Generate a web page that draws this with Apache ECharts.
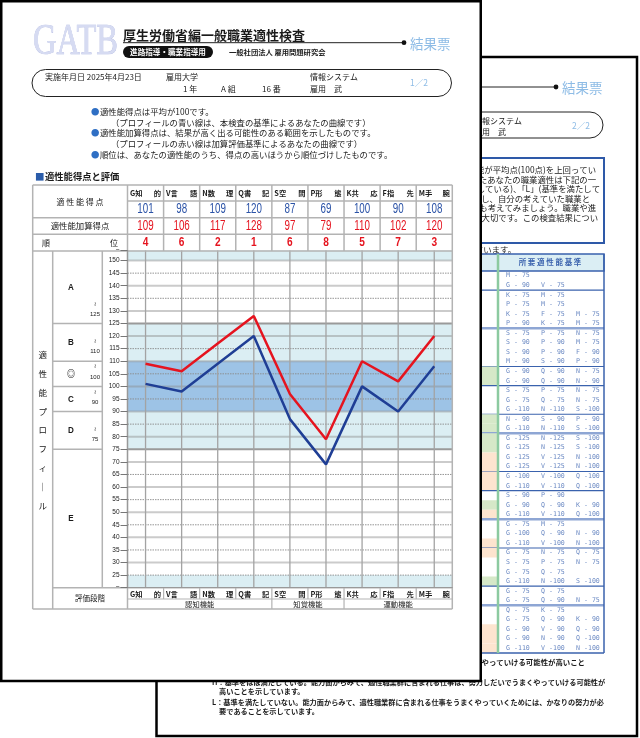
<!DOCTYPE html>
<html>
<head>
<meta charset="utf-8">
<script src="https://cdn.jsdelivr.net/npm/echarts@6/dist/echarts.min.js"></script>
<style>
  html, body { margin: 0; padding: 0; background: #fff; }
  #main { width: 640px; height: 738px; }
</style>
</head>
<body>
<div id="main"></div>
<script>
// --- data ---
const categories = ['G知的', 'V言語', 'N数理', 'Q書記', 'S空間', 'P形態', 'K共応', 'F指先', 'M手腕'];
const aptitudeScores = [101, 98, 109, 120, 87, 69, 100, 90, 108];
const addedScores = [109, 106, 117, 128, 97, 79, 110, 102, 120];
const ranks = [4, 6, 2, 1, 6, 8, 5, 7, 3];
const yTicks = [25, 30, 35, 40, 45, 50, 55, 60, 65, 70, 75, 80, 85, 90, 95, 100, 105, 110, 115, 120, 125, 130, 135, 140, 145, 150];
const gradeNames = ['A', 'B', '◎', 'C', 'D', 'E'];
const gradeBounds = [154, 125, 110, 100, 90, 75, 20];
const gradeLimits = ['125', '110', '100', '90', '75', ''];
const lightBands = [[150, 154], [110, 125], [75, 90], [20, 25]];
const midBand = [90, 110];
const funcGroups = [['認知機能', 0, 3], ['知覚機能', 4, 5], ['運動機能', 6, 8]];
const profileTitle = ['適', '性', '能', 'プ', 'ロ', 'フ', 'ィ', '｜', 'ル'];

// page 2 table (所要適性能基準)
const stdGroups = [
  [['M - 75'], ['G - 90', 'V - 75']],
  [['K - 75', 'M - 75'], ['P - 75', 'M - 75'], ['K - 75', 'F - 75', 'M - 75'], ['P - 90', 'K - 75', 'M - 75']],
  [['S - 75', 'P - 75', 'N - 75'], ['S - 90', 'P - 90', 'M - 75'], ['S - 90', 'P - 90', 'F - 90'], ['M - 90', 'S - 90', 'P - 90']],
  [['G - 90', 'Q - 90', 'N - 75'], ['G - 90', 'Q - 90', 'N - 90']],
  [['S - 75', 'P - 75', 'N - 75'], ['G - 75', 'Q - 75', 'N - 75'], ['G -110', 'N -110', 'S -100']],
  [['N - 90', 'S - 90', 'P - 90'], ['G -110', 'N -110', 'S -100']],
  [['G -125', 'N -125', 'S -100'], ['G -125', 'N -125', 'S -100'], ['G -125', 'V -125', 'N -100'], ['G -125', 'V -125', 'N -100']],
  [['G -100', 'V -100', 'Q -100'], ['G -110', 'V -110', 'Q -100']],
  [['S - 90', 'P - 90'], ['G - 90', 'Q - 90', 'K - 90'], ['G -110', 'V -110', 'Q -100']],
  [['G - 75', 'M - 75'], ['G -100', 'Q - 90', 'N - 90'], ['G -110', 'V -100', 'N -100']],
  [['G - 75', 'N - 75', 'Q - 75'], ['S - 75', 'P - 75', 'N - 75'], ['G - 75', 'Q - 75'], ['G -110', 'N -100', 'S -100']],
  [['G - 75', 'Q - 75'], ['G - 75', 'Q - 90', 'N - 75']],
  [['Q - 75', 'K - 75'], ['G - 75', 'Q - 90', 'K - 90'], ['G - 90', 'V - 90', 'Q - 90'], ['G - 90', 'N - 90', 'Q -100'], ['G -110', 'V -100', 'N -100']]
];
const thickAfterGroup = [1, 5, 8, 11];
const rowMarks = { 11: 'g', 12: 'g', 16: 'g', 17: 'g', 18: 'g', 19: 'g', 20: 'o', 21: 'o', 22: 'o', 23: 'o',
  25: 'g', 26: 'o', 29: 'o', 30: 'o', 33: 'g', 38: 'o', 39: 'o', 40: 'o' };

const JP = "'Noto Sans CJK JP', sans-serif";
const chart = echarts.init(document.getElementById('main'));

chart.setOption({
  animation: false,
  backgroundColor: '#ffffff',
  grid: { left: 127.5, right: 187.7, top: 250.5, bottom: 150.3 },
  xAxis: {
    type: 'category',
    data: categories,
    boundaryGap: true,
    axisLine: { show: true, lineStyle: { color: '#999', width: 1 } },
    axisTick: { show: false },
    axisLabel: { show: false },
    splitLine: { show: false }
  },
  yAxis: {
    type: 'value',
    min: 20,
    max: 154,
    interval: 5,
    axisLine: { show: true, lineStyle: { color: '#999', width: 1.2 } },
    axisTick: { show: true, length: 7, lineStyle: { color: '#777', width: 1 } },
    axisLabel: {
      fontSize: 6.5,
      fontFamily: 'Liberation Sans',
      color: '#222',
      margin: 8,
      formatter: v => (v === 20 || v === 154) ? '~' : (v >= 25 && v <= 150 ? String(v) : '')
    },
    splitLine: { show: false }
  },
  series: [
    {
      name: '適性能加算得点',
      type: 'line',
      data: addedScores,
      symbol: 'none',
      lineStyle: { color: '#e5141f', width: 2.5 },
      itemStyle: { color: '#e5141f' },
      z: 3
    },
    {
      name: '適性能得点',
      type: 'line',
      data: aptitudeScores,
      symbol: 'none',
      lineStyle: { color: '#1f3e95', width: 2.5 },
      itemStyle: { color: '#1f3e95' },
      z: 4
    }
  ]
});

const xp = i => chart.convertToPixel({ xAxisIndex: 0 }, i);
const yp = v => chart.convertToPixel({ yAxisIndex: 0 }, v);
const colW = xp(1) - xp(0);
const gL = xp(0) - colW / 2;
const gR = xp(categories.length - 1) + colW / 2;

const g = [];
function text(x, y, s, size, o) {
  o = o || {};
  g.push({
    type: 'text', x: x, y: y, z: o.z !== undefined ? o.z : -5, scaleX: o.sx || 1, silent: true,
    style: {
      text: s, fontSize: size, fontFamily: o.font || JP, fontWeight: o.bold ? 'bold' : 'normal',
      fill: o.color || '#1a1a1a', align: o.align || 'left', verticalAlign: 'middle'
    }
  });
}
function line(x1, y1, x2, y2, stroke, w, o) {
  o = o || {};
  g.push({
    type: 'line', z: o.z !== undefined ? o.z : -6, silent: true,
    shape: { x1: x1, y1: y1, x2: x2, y2: y2 },
    style: { stroke: stroke, lineWidth: w, lineDash: o.dash || null }
  });
}
function rect(x, y, w, h, style, z, r) {
  g.push({ type: 'rect', z: z, silent: true, shape: { x: x, y: y, width: w, height: h, r: r || 0 }, style: style });
}

// ---------- back page (2/2) ----------
const BZ = -19;
rect(156.5, 57, 480.5, 679, { fill: '#fff', stroke: '#000', lineWidth: 2.5 }, -20);
line(300, 87, 556, 87, '#222', 1, { z: BZ });
g.push({ type: 'circle', z: BZ, silent: true, shape: { cx: 556, cy: 87, r: 2.4 }, style: { fill: '#111' } });
text(562, 88, '結果票', 13.5, { color: '#8ebce6', z: BZ });
rect(180, 112, 423, 26, { fill: 'none', stroke: '#222', lineWidth: 1 }, BZ, 13);
text(474, 120.5, '情報システム', 8, { z: BZ });
text(474, 131.5, '雇用　武', 8, { z: BZ });
text(572, 126, '2／2', 8.5, { color: '#8ebce6', z: BZ });
rect(200, 158, 404, 85, { fill: 'none', stroke: '#2e59a8', lineWidth: 2 }, BZ);
const boxLines = [
  ['あなたの適性能のうち、その適性能が平均点(100点)を上回ってい', 596, 170],
  ['の適性能の組み合わせから求められたあなたの職業適性は下記の一', 596, 179.5],
  ['ていない)、「M」(基準をほぼ満たしている)、「L」(基準を満たして', 600, 189],
  ['の中から、特に「H」の職業群に注目し、自分の考えていた職業と', 590, 198.5],
  ['の考えていなかった職業についても考えてみましょう。職業や進', 596, 208],
  ['めるには、よく話し合うことが大切です。この検査結果につい', 598, 217.5]
];
boxLines.forEach(b => text(b[1], b[2], b[0], 8.4, { align: 'right', z: BZ }));
text(516, 249.5, '適性職業群が示されています。', 8.4, { align: 'right', z: BZ });
rect(300, 254, 304, 17, { fill: '#dbeef4', stroke: '#3a62ad', lineWidth: 1.5 }, BZ);
text(550, 262.5, '所 要 適 性 能 基 準', 7.5, { align: 'center', color: '#3a62ad', bold: true, z: BZ });
const rowH = 9.55;
const rowTop = 271;
let rowNo = 0;
stdGroups.forEach((grp, gi) => {
  grp.forEach(r => {
    rowNo += 1;
    const yc = rowTop + (rowNo - 0.5) * rowH;
    const mark = rowMarks[rowNo];
    if (mark) {
      rect(440, yc - rowH / 2, 57.5, rowH, { fill: mark === 'g' ? '#d6e8c8' : '#fde4cf' }, BZ);
    }
    r.forEach((s, k) => text(506 + k * 35, yc, s, 6.6, { font: 'DejaVu Sans Mono', color: '#6d8bc4', z: BZ }));
  });
  const yb = rowTop + rowNo * rowH;
  if (gi < stdGroups.length - 1) {
    if (thickAfterGroup.indexOf(gi) >= 0) line(300, yb, 604, yb, '#8ea6d4', 2.5, { z: BZ });
    else line(300, yb, 604, yb, '#3a62ad', 1.1, { z: BZ });
  }
});
const tableBottom = rowTop + rowNo * rowH;
line(300, tableBottom, 604, tableBottom, '#3a62ad', 1.5, { z: BZ });
line(604, 254, 604, tableBottom, '#3a62ad', 1.5, { z: BZ });
line(498, 254, 498, tableBottom, '#8ccaa0', 2.5, { z: BZ });
text(585, 662.5, 'うまくやっていける可能性が高いこと', 7.4, { align: 'right', bold: true, z: BZ });
text(212, 682.5, 'H：基準をほぼ満たしている。能力面からみて、適性職業群に含まれる仕事は、努力しだいでうまくやっていける可能性が', 7.2, { bold: true, z: BZ });
text(219, 691.5, '高いことを示しています。', 7.2, { bold: true, z: BZ });
text(212, 702.5, 'L：基準を満たしていない。能力面からみて、適性職業群に含まれる仕事をうまくやっていくためには、かなりの努力が必', 7.2, { bold: true, z: BZ });
text(219, 711.5, '要であることを示しています。', 7.2, { bold: true, z: BZ });

// ---------- front page (1/2) ----------
rect(1.25, 1.25, 479.5, 679.75, { fill: '#fff', stroke: '#000', lineWidth: 2.5 }, -10);
g.push({
  type: 'text', x: 33, y: 42, z: -5, scaleX: 0.74, silent: true,
  style: { text: 'GATB', fontSize: 44, fontFamily: 'Liberation Serif', fill: '#d6dbf2', stroke: '#aeb6e0',
    lineWidth: 0.6, align: 'left', verticalAlign: 'middle' }
});
text(123, 35, '厚生労働省編一般職業適性検査', 13, { bold: true });
line(123, 42.7, 404, 42.7, '#222', 1);
g.push({ type: 'circle', z: -5, silent: true, shape: { cx: 404, cy: 42.7, r: 2.4 }, style: { fill: '#111' } });
text(410, 43.5, '結果票', 13.5, { color: '#8ebce6' });
rect(123, 46, 90, 12, { fill: '#111' }, -6, 6);
text(168, 52, '進路指導・職業指導用', 7.6, { align: 'center', color: '#fff', bold: true });
text(229, 52.3, '一般社団法人 雇用問題研究会', 7.3, { bold: true });
rect(32, 69.5, 419.5, 27, { fill: 'none', stroke: '#222', lineWidth: 1 }, -6, 13.5);
text(45, 77, '実施年月日 2025年4月23日', 8);
text(166, 77, '雇用大学', 8);
text(310, 77, '情報システム', 8);
text(183, 89, '1 年', 8);
text(221, 89, 'A 組', 8);
text(262, 89, '16 番', 8);
text(310, 89, '雇用　武', 8);
text(410, 82.5, '1／2', 8.5, { color: '#8ebce6' });

const notes = [
  [true, '適性能得点は平均が100です。', 111.7],
  [false, '（プロフィールの青い線は、本検査の基準によるあなたの曲線です）', 122.4],
  [true, '適性能加算得点は、結果が高く出る可能性のある範囲を示したものです。', 133.2],
  [false, '（プロフィールの赤い線は加算評価基準によるあなたの曲線です）', 143.8],
  [true, '順位は、あなたの適性能のうち、得点の高いほうから順位づけしたものです。', 154.4]
];
notes.forEach(n => {
  if (n[0]) {
    text(91, n[2], '●', 8.4, { color: '#2f6fc4' });
    text(100, n[2], n[1], 8.4);
  } else {
    text(111, n[2], n[1], 8.4);
  }
});
text(35, 176.7, '■', 9.5, { color: '#2a5caa' });
text(45, 176.7, '適性能得点と評価', 9.3, { bold: true });

// plot background bands
const plotTop = yp(154), plotBot = yp(20);
lightBands.forEach(b => rect(gL, yp(b[1]), gR - gL, yp(b[0]) - yp(b[1]), { fill: '#dbeef3' }, -8));
rect(gL, yp(midBand[1]), gR - gL, yp(midBand[0]) - yp(midBand[1]), { fill: '#9dc3e6' }, -8);

// grid lines
yTicks.forEach(v => {
  const y = yp(v);
  if (v === 125 || v === 75) line(gL, y, gR, y, '#9a9a9a', 2, { z: -7 });
  else if (v % 10 === 0) line(gL, y, gR, y, 'rgba(140,140,140,0.45)', 2, { z: -7 });
  else line(gL, y, gR, y, '#8a8a8a', 0.9, { z: -7, dash: [1.5, 1] });
});
categories.forEach((c, i) => line(xp(i), plotTop, xp(i), plotBot, '#a3a3a3', 1.3, { z: -7 }));

// table lines (front)
const TL = 32.7, TT = 185, TB = 251;
const TC = '#b3b3b3';
line(TL, TT, gR, TT, TC, 1.5);
line(gL, 201, gR, 201, TC, 1.5);
line(TL, 217.7, gR, 217.7, TC, 1.5);
line(TL, 234.3, gR, 234.3, TC, 1.5);
line(TL, TB, gR, TB, TC, 1.5);
line(TL, TT, TL, 609, TC, 1.5);
line(gR, TT, gR, 609, TC, 1.5);
line(gL, TT, gL, 609, TC, 1.5);
for (let i = 1; i < categories.length; i++) {
  const xb = xp(i) - colW / 2;
  line(xb, TT, xb, TB, TC, 1.5);
  line(xb, plotBot, xb, 599, TC, 1.2);
}
funcGroups.forEach((fg, k) => {
  if (k > 0) {
    const xb = xp(fg[1]) - colW / 2;
    line(xb, 599, xb, 609, TC, 1.2);
  }
  text((xp(fg[1]) + xp(fg[2])) / 2, 604.3, fg[0], 7.3, { align: 'center' });
});
line(52.7, TB, 52.7, 609, TC, 1.5);
line(102.3, TB, 102.3, plotBot, TC, 1.5);
line(52.7, plotBot, gR, plotBot, TC, 1.5);
line(gL, 599, gR, 599, TC, 1.2);
line(TL, 609, gR, 609, TC, 1.5);
gradeBounds.slice(1, -1).forEach(v => line(52.7, yp(v), 102.3, yp(v), TC, 1.5));

// table texts
text(80, 202, '適 性 能 得 点', 8, { align: 'center' });
text(80, 226, '適性能加算得点', 8.4, { align: 'center' });
text(42, 242.6, '順', 8);
text(118, 242.6, '位', 8, { align: 'right' });
text(90, 598.5, '評価段階', 7.5, { align: 'center' });
categories.forEach((c, i) => {
  const xl = xp(i) - colW / 2, xr = xp(i) + colW / 2;
  [193, 593.8].forEach(y => {
    text(xl + 2.5, y, c.slice(0, 2), 7.3, { bold: true });
    text(xr - 2.5, y, c.slice(2), 7.3, { bold: true, align: 'right' });
  });
  text(xp(i), 209.6, String(aptitudeScores[i]), 14, { align: 'center', color: '#2b53a7', font: 'Liberation Sans', sx: 0.7 });
  text(xp(i), 226.1, String(addedScores[i]), 14, { align: 'center', color: '#e5141f', font: 'Liberation Sans', sx: 0.7 });
  text(xp(i), 242.7, String(ranks[i]), 13, { align: 'center', color: '#e5141f', font: 'Liberation Sans', bold: true, sx: 0.78 });
});

// evaluation grades
gradeNames.forEach((nm, k) => {
  const yT = yp(gradeBounds[k]), yB = yp(gradeBounds[k + 1]);
  text(71, (yT + yB) / 2, nm, 9.5, { align: 'center', bold: true, font: nm === '◎' ? JP : 'Liberation Sans', sx: 0.85 });
  if (gradeLimits[k]) {
    text(95, yB - 19.5, '≀', 6, { align: 'center', font: 'DejaVu Sans' });
    text(95, yB - 9.5, gradeLimits[k], 6, { align: 'center', font: 'Liberation Sans' });
  }
});
profileTitle.forEach((ch, k) => text(42.7, 355 + k * 18.8, ch, 8.5, { align: 'center' }));

chart.setOption({ graphic: { elements: g } });
</script>
</body>
</html>
